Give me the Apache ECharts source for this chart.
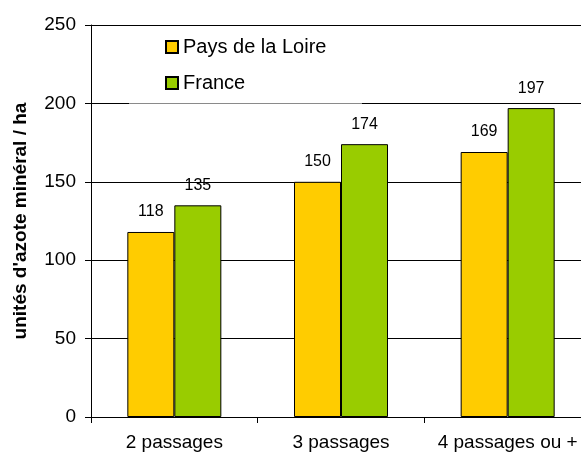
<!DOCTYPE html>
<html>
<head>
<meta charset="utf-8">
<script src="https://cdn.jsdelivr.net/npm/echarts@6/dist/echarts.min.js"></script>
<style>
  html, body { margin: 0; padding: 0; background: #fff; }
  #chart { width: 581px; height: 455px; }
</style>
</head>
<body>
<div id="chart"></div>
<script>
// Nitrogen applied by number of passes
const categories = ['2 passages', '3 passages', '4 passages ou +'];
const paysDeLaLoire = [118, 150, 169];
const france = [135, 174, 197];
const seriesNames = ['Pays de la Loire', 'France'];
const yTicks = { min: 0, max: 250, interval: 50 };
const yAxisTitle = "unités d'azote minéral / ha";

const FONT = '"Liberation Sans", Arial, sans-serif';

const chart = echarts.init(document.getElementById('chart'), null, { renderer: 'canvas' });

const barLabel = {
  show: true,
  position: 'top',
  distance: 12,
  color: '#000',
  fontSize: 16,
  fontFamily: FONT
};

chart.setOption({
  animation: false,
  backgroundColor: '#fff',
  // plot area runs past the right edge of the canvas
  grid: { left: 91, top: 25, width: 500, height: 392, containLabel: false, outerBoundsMode: 'none' },
  legend: {
    orient: 'vertical',
    left: 165,
    top: 37,
    padding: 0,
    itemWidth: 12,
    itemHeight: 12,
    itemGap: 16,
    icon: 'rect',
    data: seriesNames,
    textStyle: { fontSize: 20, fontFamily: FONT, color: '#000' },
    z: 10
  },
  xAxis: {
    type: 'category',
    data: categories,
    axisLine: { lineStyle: { color: '#000', width: 1 } },
    axisTick: { show: true, length: 6, lineStyle: { color: '#000' } },
    axisLabel: { color: '#000', fontSize: 19, fontFamily: FONT, margin: 16, interval: 0 },
    splitLine: { show: false }
  },
  yAxis: {
    type: 'value',
    min: yTicks.min,
    max: yTicks.max,
    interval: yTicks.interval,
    name: yAxisTitle,
    nameLocation: 'middle',
    nameGap: 61,
    nameRotate: 90,
    nameTextStyle: { color: '#000', fontSize: 19, fontWeight: 'bold', fontFamily: FONT },
    axisLine: { show: true, lineStyle: { color: '#000', width: 1 } },
    axisTick: { show: true, length: 6, lineStyle: { color: '#000' } },
    axisLabel: { color: '#000', fontSize: 19, fontFamily: FONT, margin: 15 },
    splitLine: { show: true, lineStyle: { color: '#000', width: 1 } }
  },
  graphic: [
    {
      // legend box edge over the 200 gridline
      type: 'rect',
      z: 5,
      shape: { x: 129, y: 96, width: 233, height: 6 },
      style: { fill: '#fff' }
    },
    {
      type: 'line',
      z: 6,
      shape: { x1: 129, y1: 103.5, x2: 362, y2: 103.5 },
      style: { stroke: '#8a8a8a', lineWidth: 1 }
    }
  ],
  series: [
    {
      name: seriesNames[0],
      type: 'bar',
      data: paysDeLaLoire,
      barWidth: 47,
      barGap: '0%',
      itemStyle: { color: '#FFCC00', borderColor: '#000', borderWidth: 1 },
      label: barLabel
    },
    {
      name: seriesNames[1],
      type: 'bar',
      data: france,
      barWidth: 47,
      barGap: '0%',
      itemStyle: { color: '#99CC00', borderColor: '#000', borderWidth: 1 },
      label: barLabel
    }
  ]
});
</script>
</body>
</html>
